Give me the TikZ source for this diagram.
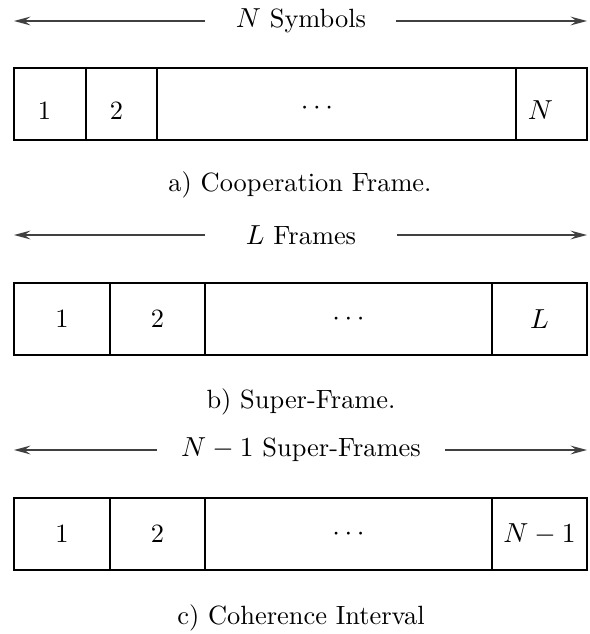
\documentclass[tikz,border=0pt]{standalone}
\usetikzlibrary{arrows.meta,calc}
\begin{document}
\begin{tikzpicture}[x=0.3637pt,y=-0.3637pt,
  every node/.style={font=\fontsize{9.6pt}{11.5pt}\selectfont},
  cell/.style={draw,line width=0.5pt,minimum height=72*0.3637pt,inner sep=0pt,outer sep=0pt,anchor=west},
  span/.style={draw=black!75,line width=0.45pt,-{Stealth[length=6pt,width=3.2pt,inset=2.2pt]}},
  lab/.style={inner sep=0pt}]
\useasboundingbox (0,0) rectangle (589,634);
% ---------- a)
\node[lab] (ta) at (301,21) {$N$ Symbols};
\coordinate (aL) at (14,21); \coordinate (aR) at (587,21);
\coordinate (aLs) at (205,21); \coordinate (aRs) at (396,21);
\draw[span] (aLs) -- (aL);
\draw[span] (aRs) -- (aR);
\node[cell,minimum width=72*0.3637pt] (a1) at (14,104) {};
\node[cell,minimum width=71*0.3637pt] (a2) at (a1.east) {};
\node[cell,minimum width=359*0.3637pt] (a3) at (a2.east) {};
\node[cell,minimum width=71*0.3637pt] (a4) at (a3.east) {};
\node[lab] (a1t) at ($(a1.center)+(-5.5,6.5)$) {1};
\node[lab] (a2t) at ($(a2.center)+(-5,6.5)$) {2};
\node[lab] (a3t) at ($(a3.center)+(-19.5,4)$) {$\cdots$};
\node[lab] (a4t) at ($(a4.center)+(-11,6.5)$) {$N$};
\node[lab] (ca) at (300,185) {a) Cooperation Frame.};
% ---------- b)
\node[lab] (tb) at (301,235) {$L$ Frames};
\coordinate (bL) at (14,235); \coordinate (bR) at (587,235);
\coordinate (bLs) at (205,235); \coordinate (bRs) at (397,235);
\draw[span] (bLs) -- (bL);
\draw[span] (bRs) -- (bR);
\node[cell,minimum width=96*0.3637pt] (b1) at (14,319) {1};
\node[cell,minimum width=95*0.3637pt] (b2) at (b1.east) {2};
\node[cell,minimum width=287*0.3637pt] (b3) at (b2.east) {$\cdots$};
\node[cell,minimum width=95*0.3637pt] (b4) at (b3.east) {$L$};
\node[lab] (cb) at (301,402) {b) Super-Frame.};
% ---------- c)
\node[lab] (tc) at (301,450) {$N-1$ Super-Frames};
\coordinate (cL) at (14,450); \coordinate (cR) at (587,450);
\coordinate (cLs) at (157,450); \coordinate (cRs) at (445,450);
\draw[span] (cLs) -- (cL);
\draw[span] (cRs) -- (cR);
\node[cell,minimum width=96*0.3637pt] (c1) at (14,534) {1};
\node[cell,minimum width=95*0.3637pt] (c2) at (c1.east) {2};
\node[cell,minimum width=287*0.3637pt] (c3) at (c2.east) {$\cdots$};
\node[cell,minimum width=95*0.3637pt] (c4) at (c3.east) {$N-1$};
\node[lab] (cc) at (301,618) {c) Coherence Interval};
\end{tikzpicture}
\end{document}
